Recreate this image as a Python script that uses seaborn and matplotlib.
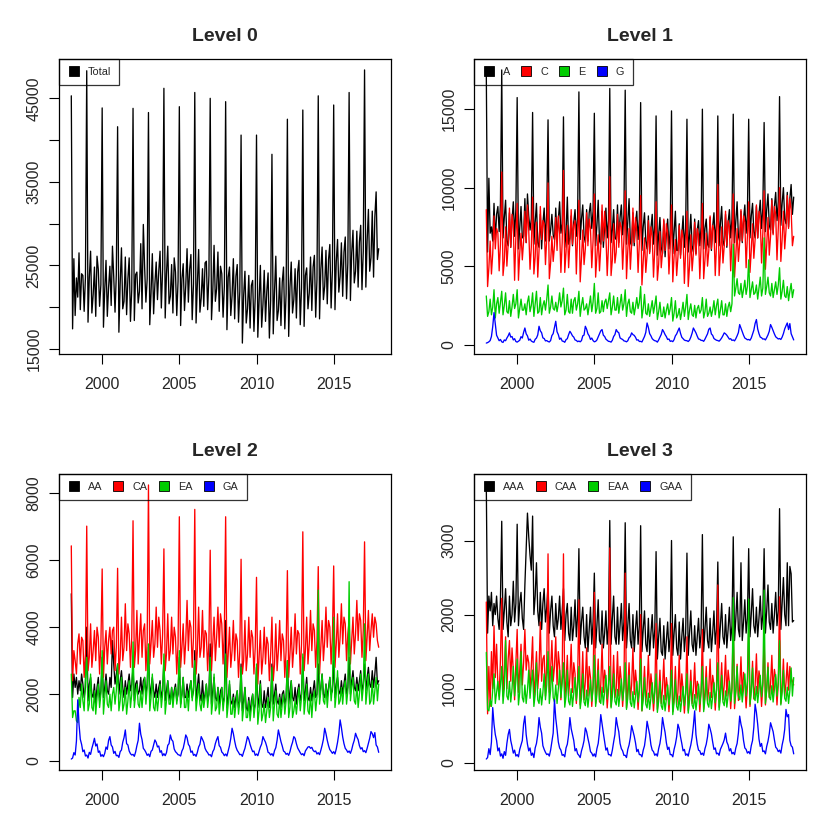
import numpy as np
import pandas as pd
import seaborn as sns
import matplotlib.pyplot as plt
from matplotlib.lines import Line2D

# monthly series Jan 1998 - Dec 2017, one row per year

total = [
    45300, 17400, 25800, 19000, 23500, 21200, 26500, 19700, 24000, 23800, 19500, 23600,
    48300, 18200, 23500, 26700, 19300, 21500, 24800, 18900, 26100, 24500, 20100, 22700,
    43850, 17600, 22100, 25600, 18900, 22400, 24900, 20200, 27300, 23600, 19400, 23900,
    41600, 17000, 22800, 27100, 19800, 20700, 26000, 19100, 23400, 25900, 18300, 22100,
    43800, 18400, 23900, 24200, 20500, 21900, 27600, 19800, 29900, 24800, 20600, 23400,
    43300, 17900, 21700, 26400, 19200, 22800, 25400, 20900, 24300, 26700, 19900, 24500,
    46200, 18700, 24000, 27300, 20400, 21300, 25100, 19300, 25900, 24200, 19000, 23100,
    44000, 17800, 23400, 25200, 19600, 22600, 27000, 20600, 24500, 26300, 18500, 22800,
    45700, 18100, 22700, 26900, 19400, 21100, 24600, 20100, 25300, 25500, 19700, 23800,
    45000, 18500, 21900, 27400, 20700, 22200, 26600, 19500, 24900, 24000, 18800, 22500,
    44600, 17300, 23600, 24800, 19000, 21400, 25800, 18600, 23700, 25100, 18200, 21900,
    40600, 15700, 21400, 24300, 18100, 19800, 23800, 17500, 22600, 23200, 17100, 21200,
    40600, 16400, 20800, 25000, 17600, 20300, 24400, 18300, 21900, 24100, 16300, 20800,
    38300, 16800, 21900, 26100, 18400, 19600, 23500, 17800, 23000, 24800, 17400, 21600,
    42500, 16500, 22400, 25400, 19300, 20900, 24600, 18700, 24200, 25600, 17900, 22300,
    43600, 17700, 23800, 24700, 19800, 21700, 26000, 19600, 24800, 26200, 18800, 23300,
    45300, 18600, 24500, 27200, 20900, 22500, 26800, 20400, 25700, 27500, 19900, 24400,
    44200, 19700, 25400, 28100, 21800, 23700, 27700, 21300, 26600, 28400, 21000, 25300,
    45700, 20800, 26500, 29200, 22900, 24300, 29100, 22400, 27800, 29800, 22100, 26700,
    48400, 22400, 27900, 31700, 24300, 25900, 31500, 23600, 30800, 33800, 25700, 27000,
]

state_a = [
    17300, 5900, 10600, 7100, 7500, 6600, 9000, 6700, 8300, 8800, 7200, 9000,
    17500, 6800, 8100, 9200, 6600, 6300, 8400, 6200, 7900, 9100, 6900, 8600,
    15740, 6100, 7400, 8800, 6800, 6900, 9300, 6500, 9600, 8200, 7300, 8000,
    14790, 6400, 7800, 9000, 6500, 6200, 8300, 6100, 7700, 8700, 6600, 8400,
    14320, 6600, 7300, 8300, 7000, 6700, 8700, 6800, 8000, 9100, 7100, 7700,
    14510, 6200, 7100, 9400, 6400, 6800, 8200, 6300, 7800, 8600, 6900, 8100,
    16100, 6700, 8000, 8900, 6900, 6500, 8600, 6600, 8400, 9000, 7400, 8500,
    14740, 6300, 7600, 9200, 6600, 6400, 8500, 6200, 7500, 8700, 6800, 7900,
    16320, 6500, 7300, 8600, 6800, 6700, 8900, 6500, 8100, 8900, 7000, 8300,
    16210, 6400, 7800, 9300, 6500, 6300, 8400, 6300, 7700, 8500, 6700, 8000,
    15420, 6000, 7500, 8400, 6600, 6100, 8200, 5900, 7400, 8300, 6400, 7600,
    14570, 5700, 7000, 8100, 6200, 5800, 7900, 5600, 7100, 8000, 6100, 7300,
    14890, 5800, 7200, 8500, 6000, 6000, 7700, 5700, 6900, 8200, 6200, 7400,
    14360, 5900, 6900, 8300, 6300, 5900, 8000, 5800, 7300, 7900, 6300, 7500,
    15000, 6100, 7400, 8000, 6400, 6200, 8100, 6000, 7500, 8400, 6500, 7700,
    14570, 6300, 7700, 8800, 6600, 6300, 8300, 6200, 7800, 8600, 6800, 8000,
    14680, 6500, 7900, 9100, 6900, 6600, 8500, 6500, 8000, 8900, 7100, 8300,
    14360, 6800, 8200, 9000, 7200, 6800, 8800, 6800, 8300, 9200, 7400, 8700,
    14150, 7200, 8600, 9600, 7600, 7300, 9300, 7100, 8800, 9700, 7900, 9100,
    15800, 7600, 9000, 10000, 8000, 7700, 9700, 7500, 9300, 10200, 8300, 9400,
]

state_c = [
    8600, 3700, 4900, 6600, 4500, 5800, 8200, 6100, 7400, 7100, 4700, 6400,
    11000, 4400, 5300, 7500, 5000, 6400, 8700, 6200, 8300, 7600, 4100, 6900,
    9000, 4100, 5800, 7100, 5400, 6600, 8500, 6500, 8900, 7300, 4800, 6200,
    9400, 4500, 5600, 7800, 4300, 6000, 8800, 6700, 7900, 7700, 5100, 6800,
    10300, 4200, 5200, 6900, 5300, 6300, 8100, 6000, 8200, 7200, 4600, 6500,
    11100, 4600, 5900, 7600, 4900, 6500, 8600, 6400, 7600, 7900, 4500, 7000,
    9200, 4000, 5500, 7300, 5100, 6100, 8400, 6300, 8000, 7400, 4900, 6600,
    9600, 4300, 5700, 7000, 4700, 6200, 8900, 6600, 8500, 7000, 4400, 6300,
    10700, 4400, 5400, 7700, 5200, 5900, 8300, 6200, 7800, 7500, 4800, 6700,
    9800, 4200, 6000, 7400, 4800, 6400, 8700, 6500, 8100, 7200, 4600, 6500,
    9500, 3800, 5300, 6800, 4600, 5700, 7900, 5800, 7500, 6900, 4300, 6100,
    9100, 4100, 5100, 7200, 4900, 5900, 8000, 6000, 7700, 7100, 4500, 6200,
    8900, 4000, 5600, 6700, 4400, 5600, 7600, 5500, 7300, 6800, 3900, 6000,
    8500, 3700, 5000, 7000, 4700, 5800, 7800, 5700, 7400, 7000, 4200, 6300,
    9000, 4200, 5400, 7100, 5000, 6000, 8200, 6100, 7600, 7300, 4400, 6400,
    10200, 4400, 5800, 7500, 5200, 6300, 8500, 6300, 7900, 7500, 4700, 6700,
    9600, 4300, 5700, 7400, 5300, 6500, 8600, 6600, 8200, 7800, 4900, 6900,
    9100, 4600, 6000, 7700, 5500, 6700, 8900, 6800, 8500, 8000, 5200, 7100,
    9800, 4800, 6300, 8100, 5700, 6900, 9200, 7000, 8800, 8300, 5400, 7400,
    10000, 5300, 6700, 8500, 6100, 7300, 9500, 7400, 9300, 8600, 6300, 6900,
]

state_e = [
    3100, 1800, 2100, 2900, 1900, 2400, 3500, 1700, 2600, 3000, 2000, 2700,
    3400, 1900, 2500, 3300, 2100, 2000, 2800, 1800, 2400, 3200, 2300, 2600,
    3500, 1700, 2300, 2900, 2200, 2200, 2600, 1900, 2700, 3100, 2100, 2500,
    3300, 1800, 2600, 3400, 2000, 2100, 3000, 1900, 2500, 2800, 2200, 2900,
    3800, 2000, 2400, 3100, 2300, 2200, 2700, 2100, 2600, 3300, 2400, 2800,
    3600, 1900, 2200, 3200, 2100, 2000, 2900, 2000, 2800, 3000, 2200, 2600,
    3400, 1800, 2500, 3000, 2200, 2300, 2600, 1900, 2500, 3100, 2100, 2700,
    3900, 2000, 2300, 3300, 2000, 2100, 2800, 2100, 2700, 2900, 2300, 2800,
    3300, 1900, 2400, 3100, 2200, 2200, 3000, 2000, 2600, 3200, 2200, 2600,
    3500, 1800, 2600, 2900, 2100, 2000, 2700, 1900, 2400, 3000, 2300, 2700,
    3700, 1700, 2300, 3200, 2000, 1900, 2600, 1800, 2300, 2800, 2000, 2500,
    3100, 1600, 2100, 2700, 1800, 1800, 2400, 1700, 2200, 2600, 1900, 2300,
    3000, 1500, 2000, 2800, 1700, 1900, 2300, 1600, 2100, 2700, 1800, 2400,
    3200, 1600, 2200, 2600, 1900, 1800, 2500, 1700, 2300, 2500, 2000, 2200,
    3000, 1700, 2100, 2900, 1800, 2000, 2400, 1800, 2200, 2800, 1900, 2500,
    2900, 1700, 2200, 2800, 1900, 1900, 2600, 1800, 2400, 2700, 2100, 2600,
    6400, 3100, 3600, 4200, 3300, 3200, 3900, 3000, 3500, 4100, 3200, 3700,
    5400, 3000, 3500, 4000, 3200, 3300, 3800, 2900, 3600, 4300, 3100, 3600,
    6800, 3200, 3700, 4300, 3300, 3100, 3900, 3000, 3500, 4000, 3200, 3800,
    4900, 2900, 3400, 4100, 3100, 3000, 3700, 2800, 3400, 3900, 3000, 3500,
]

state_g = [
    100, 130, 180, 260, 520, 1150, 2040, 1300, 600, 420, 250, 330,
    180, 140, 300, 250, 420, 560, 750, 480, 520, 300, 380, 200,
    160, 220, 280, 510, 420, 780, 1060, 690, 560, 280, 360, 230,
    180, 150, 340, 420, 620, 1170, 880, 760, 430, 390, 240, 260,
    200, 170, 260, 580, 700, 1100, 1490, 820, 640, 340, 420, 230,
    210, 150, 320, 380, 640, 850, 720, 560, 480, 300, 270, 190,
    230, 180, 260, 560, 610, 1170, 980, 690, 560, 330, 420, 260,
    180, 210, 300, 490, 680, 880, 960, 600, 520, 350, 280, 210,
    200, 160, 280, 520, 640, 960, 820, 760, 430, 370, 330, 240,
    220, 180, 250, 440, 520, 750, 640, 590, 470, 290, 310, 200,
    210, 170, 340, 520, 780, 1380, 1100, 700, 560, 380, 300, 250,
    230, 160, 300, 470, 650, 960, 820, 640, 510, 330, 360, 210,
    240, 190, 320, 560, 680, 880, 1060, 720, 470, 380, 290, 260,
    250, 200, 290, 480, 730, 1060, 900, 750, 540, 360, 340, 270,
    270, 210, 350, 520, 690, 980, 1060, 680, 590, 390, 330, 280,
    260, 220, 310, 430, 580, 750, 690, 600, 480, 350, 380, 270,
    300, 240, 380, 560, 770, 1280, 1050, 820, 600, 420, 370, 310,
    330, 280, 420, 680, 920, 1350, 1600, 1000, 700, 480, 440, 350,
    370, 300, 450, 620, 850, 1280, 1100, 880, 680, 500, 430, 360,
    390, 330, 480, 700, 1000, 1200, 1380, 960, 1340, 700, 500, 300,
]

zone_aa = [
    5000, 1900, 2600, 2200, 2500, 2000, 2400, 2100, 2600, 2300, 1900, 2200,
    4000, 1800, 2300, 2500, 2000, 1900, 2300, 1700, 2200, 2500, 1800, 2100,
    3100, 1900, 2200, 2600, 2100, 2000, 2500, 2200, 3600, 2900, 2300, 2600,
    2900, 2000, 2400, 2700, 2200, 1900, 2400, 2000, 2300, 2600, 2100, 2300,
    2800, 1800, 2300, 2400, 2000, 2100, 2500, 2000, 2400, 2500, 2000, 2300,
    3400, 1900, 2200, 2500, 2100, 1900, 2300, 1900, 2200, 2400, 1900, 2100,
    3000, 1800, 2100, 2400, 2000, 1800, 2200, 1800, 2100, 2300, 1800, 2000,
    3100, 1700, 2000, 2500, 1900, 1900, 2300, 1900, 2200, 2400, 1900, 2100,
    3300, 1800, 2200, 2600, 2000, 1800, 2400, 1800, 2000, 2300, 1800, 2000,
    3500, 1700, 2100, 2500, 1900, 1800, 2200, 1700, 2100, 2200, 1700, 1900,
    4200, 1600, 1900, 2300, 1800, 1700, 2000, 1600, 1900, 2100, 1600, 1800,
    2900, 1500, 1800, 2200, 1600, 1500, 1900, 1400, 1800, 2000, 1500, 1700,
    2800, 1600, 1900, 2400, 1700, 1600, 2100, 1600, 1900, 2200, 1600, 1800,
    2900, 1700, 2000, 2300, 1800, 1700, 2000, 1600, 2000, 2100, 1700, 1900,
    3000, 1700, 2100, 2400, 1900, 1800, 2200, 1700, 2100, 2300, 1800, 2000,
    3100, 1800, 2100, 2500, 1900, 1800, 2200, 1800, 2100, 2400, 1900, 2000,
    2900, 1900, 2200, 2600, 2000, 1900, 2300, 1900, 2200, 2500, 2000, 2100,
    3000, 1900, 2300, 2500, 2100, 2000, 2400, 2000, 2300, 2600, 2000, 2200,
    3100, 2000, 2400, 2700, 2200, 2100, 2500, 2100, 2400, 2700, 2100, 2300,
    2900, 2100, 2500, 2800, 2300, 2200, 2700, 2200, 2600, 3100, 2300, 2400,
]

zone_ca = [
    6430, 2400, 3300, 3000, 2600, 3500, 3800, 2900, 3700, 3600, 2500, 3200,
    7020, 2700, 3100, 4100, 2800, 3300, 3900, 3000, 4000, 3700, 2600, 3500,
    5740, 2500, 3400, 3900, 2900, 3600, 4000, 3200, 3900, 4000, 2700, 3400,
    5760, 2600, 3100, 4300, 3000, 3400, 4700, 3300, 4100, 3800, 2800, 3700,
    7180, 2800, 3300, 4500, 2900, 3700, 4400, 3100, 3900, 4100, 2700, 3600,
    8250, 2900, 3500, 4200, 3100, 3500, 4600, 3400, 4300, 3900, 2900, 3800,
    6340, 2700, 3200, 4400, 3000, 3300, 4300, 3200, 4000, 3700, 2600, 3500,
    7300, 2800, 3400, 4100, 2900, 3600, 4800, 3300, 4200, 4000, 2800, 3700,
    7520, 2600, 3300, 4600, 3100, 3400, 4500, 3100, 3900, 3800, 2700, 3600,
    6300, 2700, 3500, 4300, 3000, 3700, 4600, 3400, 4400, 4100, 2900, 3900,
    7300, 2500, 3200, 4000, 2800, 3300, 4200, 3000, 3800, 3600, 2500, 3300,
    6030, 2600, 3000, 4200, 2700, 3200, 4300, 3100, 3900, 3700, 2600, 3400,
    5490, 2300, 3100, 3900, 2600, 3100, 4000, 2900, 3700, 3500, 2400, 3200,
    4300, 2400, 2900, 4100, 2700, 3300, 4200, 3000, 3800, 3600, 2500, 3300,
    5690, 2500, 3200, 4000, 2800, 3400, 4400, 3200, 3900, 3800, 2600, 3500,
    6850, 2700, 3300, 4300, 2900, 3500, 4500, 3300, 4100, 3900, 2800, 3600,
    5810, 2600, 3400, 4200, 3000, 3600, 4600, 3400, 4200, 4000, 2900, 3700,
    5830, 2800, 3500, 4400, 3100, 3700, 4700, 3500, 4300, 4100, 3000, 3800,
    4200, 2900, 3600, 4300, 3200, 3800, 4800, 3600, 4400, 4200, 3100, 3900,
    6550, 3000, 3700, 4500, 3300, 3900, 4400, 3700, 4300, 4100, 3600, 3400,
]

zone_ea = [
    2600, 1300, 1500, 1500, 1200, 1150, 1900, 1600, 2300, 1800, 1500, 2500,
    3100, 1500, 1700, 2600, 1600, 1500, 2100, 1400, 1900, 2300, 1600, 2000,
    3300, 1400, 1900, 2400, 1700, 1600, 2000, 1500, 2000, 2200, 1700, 2100,
    2900, 1500, 1800, 2500, 1500, 1700, 2200, 1400, 1800, 2400, 1600, 2000,
    3560, 1600, 2000, 2300, 1700, 1600, 2100, 1600, 2100, 2500, 1700, 2200,
    3500, 1500, 1900, 2600, 1600, 1500, 2000, 1500, 1900, 2300, 1600, 2000,
    3200, 1400, 1800, 2400, 1700, 1700, 2200, 1600, 2000, 2200, 1700, 2100,
    3300, 1600, 2000, 2500, 1600, 1600, 2100, 1500, 2100, 2400, 1800, 2200,
    3000, 1500, 1900, 2300, 1700, 1500, 2000, 1600, 1900, 2300, 1600, 2000,
    3100, 1400, 1800, 2600, 1500, 1600, 2200, 1400, 1800, 2200, 1500, 1900,
    3200, 1300, 1700, 2400, 1400, 1400, 1900, 1300, 1700, 2100, 1400, 1800,
    2800, 1200, 1600, 2200, 1300, 1300, 1800, 1200, 1600, 2000, 1300, 1700,
    2900, 1100, 1500, 2300, 1200, 1400, 1700, 1150, 1500, 1900, 1300, 1600,
    2800, 1200, 1700, 2100, 1400, 1300, 1900, 1300, 1700, 2000, 1400, 1800,
    3000, 1300, 1600, 2400, 1300, 1500, 1800, 1400, 1800, 2200, 1500, 1900,
    3200, 1400, 1800, 2300, 1500, 1400, 2000, 1300, 1900, 2100, 1500, 1900,
    5110, 1700, 2100, 2600, 1800, 1700, 2300, 1600, 2100, 2500, 1800, 2200,
    4300, 1600, 2000, 2700, 1700, 1800, 2200, 1700, 2200, 2400, 1700, 2100,
    5360, 1800, 2200, 2500, 1800, 1700, 2300, 1600, 2000, 2600, 1800, 2200,
    4100, 1700, 2100, 2600, 1700, 1800, 2400, 1700, 2100, 2500, 1800, 2300,
]

zone_ga = [
    60, 90, 250, 180, 600, 1830, 1100, 650, 500, 280, 330, 150,
    180, 90, 260, 200, 380, 520, 680, 450, 510, 260, 300, 140,
    190, 130, 230, 420, 350, 620, 730, 480, 420, 230, 290, 160,
    170, 110, 280, 330, 560, 700, 930, 520, 480, 300, 220, 180,
    200, 140, 270, 460, 620, 1130, 800, 640, 380, 330, 260, 170,
    210, 130, 290, 330, 480, 630, 560, 420, 450, 260, 310, 160,
    220, 160, 250, 470, 520, 780, 640, 590, 360, 280, 240, 190,
    180, 150, 300, 380, 560, 780, 700, 500, 440, 260, 300, 170,
    200, 140, 260, 420, 500, 730, 650, 560, 380, 300, 250, 180,
    190, 130, 280, 350, 520, 640, 730, 460, 410, 270, 230, 160,
    210, 150, 300, 460, 680, 980, 820, 600, 420, 320, 260, 190,
    200, 140, 270, 380, 560, 730, 650, 500, 380, 280, 300, 170,
    210, 160, 290, 420, 510, 730, 640, 560, 430, 260, 240, 180,
    220, 150, 310, 400, 620, 930, 760, 580, 450, 300, 270, 200,
    230, 170, 280, 440, 560, 730, 680, 520, 390, 320, 250, 190,
    220, 160, 300, 360, 420, 430, 380, 410, 320, 280, 300, 210,
    250, 190, 320, 470, 650, 980, 820, 620, 460, 340, 290, 230,
    280, 210, 360, 560, 820, 1230, 1000, 720, 520, 380, 330, 260,
    300, 230, 340, 500, 620, 830, 720, 640, 460, 360, 400, 280,
    310, 250, 380, 530, 680, 880, 820, 700, 850, 480, 420, 260,
]

region_aaa = [
    3750, 1750, 2250, 2050, 2300, 1850, 2150, 2000, 2250, 1950, 1800, 2200,
    3260, 1800, 2050, 2350, 1900, 1700, 2250, 1850, 2000, 2450, 1900, 2150,
    3220, 1850, 2150, 2300, 1950, 1800, 2400, 2900, 3370, 3050, 2800, 2600,
    3330, 2000, 2250, 2700, 2050, 1850, 2300, 1800, 2150, 2350, 1900, 2100,
    2400, 1750, 2050, 2250, 1850, 1700, 2150, 1800, 1950, 2250, 1800, 2050,
    2350, 1650, 2000, 2150, 1750, 1650, 2100, 1650, 1850, 2200, 1700, 2000,
    2890, 1600, 1900, 2100, 1700, 1550, 2000, 1500, 1800, 2100, 1600, 1900,
    2560, 1550, 1850, 2200, 1650, 1600, 2050, 1550, 1750, 2050, 1600, 1850,
    3270, 1600, 1950, 2250, 1700, 1600, 2100, 1600, 1850, 2150, 1650, 1900,
    3240, 1550, 1850, 2150, 1650, 1550, 2000, 1500, 1800, 2050, 1600, 1850,
    3200, 1500, 1800, 2050, 1600, 1500, 1950, 1450, 1750, 2000, 1550, 1800,
    2850, 1400, 1700, 1950, 1500, 1450, 1850, 1400, 1650, 1900, 1500, 1700,
    3000, 1450, 1750, 2000, 1550, 1450, 1900, 1400, 1700, 1950, 1500, 1750,
    2830, 1450, 1750, 2050, 1600, 1500, 1850, 1450, 1700, 1950, 1550, 1750,
    3080, 1500, 1800, 2100, 1650, 1550, 1950, 1500, 1750, 2050, 1600, 1800,
    2710, 1550, 1850, 2150, 1700, 1600, 2000, 1550, 1800, 2100, 1650, 1850,
    3050, 1650, 1950, 2300, 1800, 1700, 2700, 1650, 1900, 2200, 1750, 1950,
    2890, 1700, 2000, 2350, 1850, 1750, 2100, 1700, 1950, 2250, 1800, 2000,
    2890, 1750, 2050, 2400, 1900, 1800, 2150, 1750, 2000, 2300, 1850, 2050,
    3430, 1800, 2150, 2500, 2000, 1850, 2700, 1850, 2650, 2550, 1900, 1920,
]

region_caa = [
    2170, 660, 1300, 760, 1500, 1000, 1850, 1150, 1600, 1050, 900, 1400,
    2220, 900, 1200, 1700, 1000, 1400, 1650, 1100, 1550, 1250, 850, 1350,
    1800, 950, 1250, 1600, 1050, 1350, 1800, 1250, 1450, 1350, 950, 1300,
    1700, 850, 1150, 1500, 1000, 1250, 1900, 1100, 1400, 1450, 900, 1350,
    2820, 950, 1250, 1650, 1100, 1300, 1700, 1050, 1500, 1300, 850, 1200,
    2820, 850, 1100, 1450, 900, 1150, 1600, 950, 1350, 1200, 800, 1100,
    2200, 780, 1000, 1500, 850, 1100, 1550, 900, 1300, 1150, 760, 1050,
    2300, 800, 1050, 1400, 820, 1050, 1600, 950, 1250, 1100, 740, 1000,
    2900, 760, 980, 1450, 880, 1000, 1500, 900, 1300, 1100, 760, 1050,
    2560, 740, 1000, 1350, 850, 1050, 1550, 920, 1250, 1050, 720, 1000,
    2000, 700, 950, 1300, 820, 1000, 1450, 880, 1200, 1000, 700, 950,
    1880, 720, 900, 1250, 800, 1000, 1400, 850, 1150, 1000, 690, 960,
    1880, 690, 880, 1300, 780, 950, 1450, 830, 1200, 980, 670, 930,
    1700, 700, 920, 1250, 800, 980, 1350, 870, 1100, 1030, 690, 970,
    1800, 720, 950, 1300, 830, 1000, 1400, 880, 1180, 1060, 710, 990,
    2400, 750, 980, 1350, 850, 1050, 1450, 900, 1250, 1080, 730, 1010,
    1900, 730, 960, 1330, 840, 1020, 1430, 910, 1220, 1090, 740, 1020,
    1800, 760, 990, 1370, 860, 1040, 1470, 930, 1240, 1110, 760, 1040,
    1700, 780, 1000, 1350, 880, 1060, 1450, 940, 1260, 1140, 780, 1070,
    2240, 800, 1020, 1400, 900, 1080, 1350, 980, 1300, 1150, 1100, 1050,
]

region_eaa = [
    1490, 720, 700, 850, 760, 980, 1200, 800, 950, 1100, 850, 1050,
    1300, 800, 1000, 1650, 900, 850, 1100, 820, 1000, 1300, 900, 1100,
    1400, 780, 950, 1500, 880, 820, 1050, 800, 980, 1250, 870, 1080,
    1250, 760, 920, 1350, 850, 800, 1000, 780, 950, 1200, 850, 1050,
    1500, 800, 980, 1300, 880, 820, 1050, 800, 1000, 1250, 880, 1080,
    1350, 750, 900, 1250, 830, 780, 1000, 760, 940, 1150, 840, 1020,
    1300, 730, 880, 1200, 820, 770, 980, 750, 920, 1120, 830, 1000,
    1450, 760, 920, 1250, 850, 800, 1020, 780, 960, 1180, 860, 1050,
    1300, 740, 900, 1200, 830, 780, 990, 760, 930, 1130, 840, 1010,
    1350, 720, 870, 1180, 810, 760, 960, 740, 900, 1100, 820, 990,
    1400, 700, 850, 1150, 790, 740, 940, 720, 880, 1080, 800, 970,
    1200, 680, 830, 1100, 770, 720, 910, 700, 860, 1050, 780, 950,
    1250, 650, 820, 1120, 760, 710, 900, 690, 850, 1030, 770, 940,
    1200, 670, 840, 1100, 780, 730, 920, 710, 870, 1060, 790, 960,
    1300, 690, 860, 1150, 800, 750, 950, 730, 890, 1080, 810, 980,
    1350, 710, 880, 1180, 820, 770, 970, 750, 910, 1100, 830, 1000,
    2230, 800, 980, 1300, 900, 850, 1050, 820, 1000, 1200, 900, 1100,
    2210, 790, 960, 1280, 880, 840, 1030, 810, 980, 1180, 890, 1080,
    2330, 800, 970, 1290, 890, 850, 1040, 820, 990, 1190, 900, 1090,
    1650, 780, 950, 1250, 870, 830, 1020, 800, 970, 1280, 900, 1150,
]

region_gaa = [
    50, 70, 190, 110, 280, 745, 520, 380, 300, 160, 200, 90,
    120, 60, 150, 100, 260, 380, 450, 300, 220, 130, 170, 90,
    110, 80, 180, 240, 300, 520, 630, 380, 250, 160, 200, 100,
    130, 70, 200, 260, 380, 610, 480, 400, 230, 180, 140, 110,
    120, 90, 170, 290, 400, 850, 600, 450, 280, 200, 170, 100,
    110, 80, 200, 250, 380, 610, 460, 380, 300, 160, 190, 120,
    100, 70, 160, 220, 300, 470, 420, 330, 250, 150, 130, 90,
    120, 80, 190, 260, 420, 650, 520, 400, 280, 170, 200, 110,
    110, 90, 170, 280, 380, 610, 500, 420, 260, 190, 160, 100,
    100, 70, 180, 240, 340, 500, 430, 360, 270, 150, 180, 110,
    110, 80, 170, 230, 360, 560, 470, 380, 240, 170, 150, 100,
    120, 90, 190, 260, 380, 610, 500, 410, 270, 180, 210, 110,
    110, 80, 180, 250, 350, 520, 460, 350, 260, 160, 180, 100,
    120, 90, 170, 240, 340, 500, 700, 380, 250, 170, 160, 110,
    130, 100, 190, 250, 350, 520, 460, 390, 280, 180, 200, 120,
    130, 100, 180, 220, 260, 310, 400, 280, 240, 160, 190, 120,
    140, 110, 200, 260, 400, 630, 520, 450, 300, 200, 180, 130,
    150, 120, 230, 300, 480, 790, 680, 520, 320, 220, 260, 150,
    160, 120, 220, 290, 390, 540, 480, 420, 310, 210, 190, 150,
    170, 130, 240, 320, 450, 720, 620, 650, 300, 230, 210, 120,
]

panels = [
    ("Level 0", {"Total": total}),
    ("Level 1", {"A": state_a, "C": state_c, "E": state_e, "G": state_g}),
    ("Level 2", {"AA": zone_aa, "CA": zone_ca, "EA": zone_ea, "GA": zone_ga}),
    ("Level 3", {"AAA": region_aaa, "CAA": region_caa, "EAA": region_eaa, "GAA": region_gaa}),
]
y_ticks = [
    (list(range(15000, 50000, 5000)), ["15000", "", "25000", "", "35000", "", "45000"]),
    ([0, 5000, 10000, 15000], ["0", "5000", "10000", "15000"]),
    ([0, 2000, 4000, 6000, 8000], ["0", "2000", "4000", "6000", "8000"]),
    ([0, 1000, 2000, 3000], ["0", "1000", "2000", "3000"]),
]
colours = ["black", "#FF0000", "#00CD00", "#0000FF"]

sns.set_style("ticks")
plt.rcParams['font.family'] = ['Liberation Sans', 'DejaVu Sans']

fig = plt.figure(figsize=(8.3, 8.3), dpi=100)
W = 830.0
boxes = [(59, 59, 391, 354), (474, 59, 806, 354), (59, 474, 391, 770), (474, 474, 806, 770)]

for (title, series), (ticks, labels), (l, t, r, b) in zip(panels, y_ticks, boxes):
    ax = fig.add_axes([l / W, 1 - b / W, (r - l) / W, (b - t) / W])
    frames = []
    for name, vals in series.items():
        frames.append(pd.DataFrame({"time": 1998 + np.arange(len(vals)) / 12,
                                    "value": vals, "series": name}))
    long = pd.concat(frames, ignore_index=True)
    names = list(series.keys())
    sns.lineplot(data=long, x="time", y="value", hue="series", hue_order=names,
                 palette=colours[:len(names)], estimator=None, legend=False,
                 linewidth=0.95, ax=ax)

    x0, x1 = long["time"].min(), long["time"].max()
    y0, y1 = long["value"].min(), long["value"].max()
    ax.set_xlim(x0 - 0.04 * (x1 - x0), x1 + 0.04 * (x1 - x0))
    ax.set_ylim(y0 - 0.04 * (y1 - y0), y1 + 0.04 * (y1 - y0))
    ax.set_xticks([2000, 2005, 2010, 2015])
    ax.set_xticklabels(["2000", "2005", "2010", "2015"])
    ax.set_yticks(ticks)
    ax.set_yticklabels(labels)
    for lab in ax.get_yticklabels():
        lab.set_rotation(90)
        lab.set_va("center")
    ax.tick_params(axis="both", length=7.2, width=0.8, labelsize=11.5, color="black")
    ax.tick_params(axis="x", pad=9)
    ax.tick_params(axis="y", pad=5.5)
    ax.set_xlabel("")
    ax.set_ylabel("")
    for sp in ax.spines.values():
        sp.set_visible(True)
        sp.set_linewidth(0.9)
        sp.set_color("black")
    ax.set_title(title, fontsize=14, fontweight="bold", pad=13)

    handles = [Line2D([], [], marker="s", linestyle="none", markersize=6.5,
                      markerfacecolor=c, markeredgecolor="black", markeredgewidth=0.6)
               for c in colours[:len(names)]]
    leg = ax.legend(handles, names, loc="upper left", bbox_to_anchor=(0, 1),
                    borderaxespad=0, ncol=len(names), fontsize=7.8, frameon=True,
                    fancybox=False, borderpad=0.75, handlelength=1.2,
                    handletextpad=0.7, columnspacing=0.9)
    leg.get_frame().set_facecolor("none")
    leg.get_frame().set_edgecolor("black")
    leg.get_frame().set_linewidth(0.9)

fig.savefig("out.png", dpi=100)
